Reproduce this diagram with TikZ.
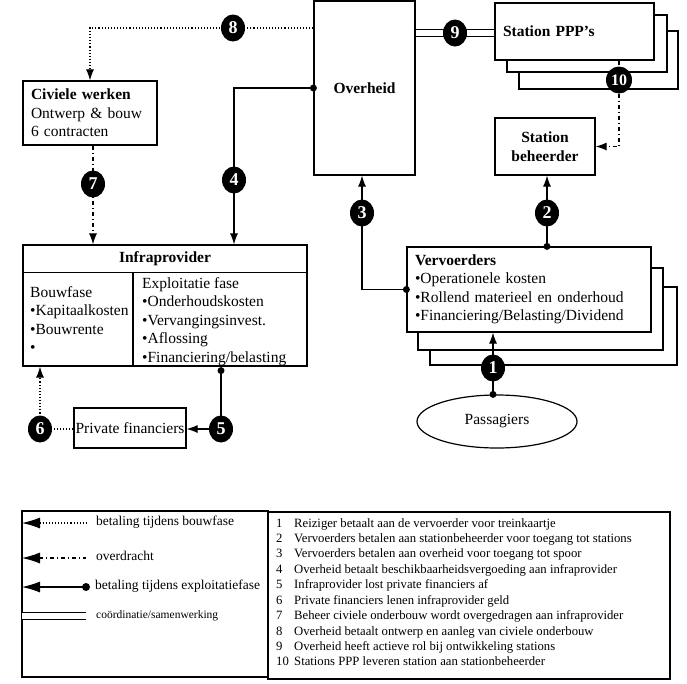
\documentclass[tikz,border=0pt]{standalone}
\usepackage{fontspec}
\setmainfont{Liberation Serif}
\usetikzlibrary{shapes.geometric,arrows.meta}
\pgfdeclarelayer{fg}
\pgfsetlayers{main,fg}
\begin{document}
\begin{tikzpicture}[x=1pt,y=-1pt,
  box/.style={draw, line width=1.2pt, fill=white, inner sep=0pt},
  txt/.style={font=\fontsize{15.5}{18.5}\selectfont},
  btxt/.style={font=\bfseries\fontsize{15.5}{18.5}\selectfont},
  num/.style={ellipse, fill=black, inner sep=0pt, minimum width=24pt, minimum height=27pt, text=white, font=\bfseries\fontsize{18}{18}\selectfont},
  conn/.style={line width=1.1pt},
  dotline/.style={conn, dotted},
  dashdot/.style={conn, dash pattern=on 4pt off 3pt on 1pt off 3pt},
  arr/.style={-{Latex[length=11pt,width=8pt]}},
  bigarr/.style={{Latex[length=18pt,width=11pt]}-},
  dbl/.style={double, double distance=6pt, line width=1.2pt},
  legtxt/.style={font=\fontsize{13.5}{15}\selectfont, anchor=west, inner sep=0pt},
]
\useasboundingbox (0,0) rectangle (687,683);

% shadow boxes
\node[box, minimum width=159pt, minimum height=58pt] (ppp3) at (598.5,60) {};
\node[box, minimum width=160pt, minimum height=57pt] (ppp2) at (587,43.5) {};
\node[box, minimum width=247pt, minimum height=78pt] (verv3) at (553.5,326) {};
\node[box, minimum width=245pt, minimum height=82pt] (verv2) at (540.5,309) {};

% main boxes
\node[box, btxt, minimum width=101pt, minimum height=174pt] (ov) at (364.5,88) {Overheid};
\node[box, btxt, minimum width=159pt, minimum height=57pt, text width=143pt, inner xsep=8pt, align=left] (ppp) at (574.5,31.5) {Station PPP's};
\node[box, btxt, minimum width=100pt, minimum height=57pt, align=center] (sb) at (545,146.5) {Station\\beheerder};
\node[box, txt, minimum width=134pt, minimum height=64pt, text width=118pt, inner xsep=8pt, align=left] (civ) at (90,113) {\textbf{Civiele werken}\\Ontwerp \& bouw\\6 contracten};
\node[box, minimum width=284pt, minimum height=121pt] (infra) at (165,305.5) {};
\node[btxt, inner sep=0pt] (infrah) at (165,259) {Infraprovider};
\draw[line width=1.2pt] (infra.north west) ++(0,28) coordinate (hl) -- (hl -| infra.east);
\draw[line width=1.2pt] (133,273) -- (133,366);
\node[txt, anchor=north west, align=left, inner sep=0pt] (infL) at (30,286) {Bouwfase\\•Kapitaalkosten\\•Bouwrente\\•};
\node[txt, anchor=north west, align=left, inner sep=0pt] (infR) at (142,277) {Exploitatie fase\\•Onderhoudskosten\\•Vervangingsinvest.\\•Aflossing\\•Financiering/belasting};
\node[box, txt, minimum width=244pt, minimum height=85pt, text width=228pt, inner xsep=8pt, align=left] (verv) at (529,289.5) {\textbf{Vervoerders}\\•Operationele kosten\\•Rollend materieel en onderhoud\\•Financiering/Belasting/Dividend};
\node[ellipse, draw, line width=1.2pt, fill=white, txt, minimum width=160pt, minimum height=53pt, inner sep=0pt] (pass) at (497,421.5) {Passagiers};
\node[box, txt, minimum width=112pt, minimum height=40pt] (pf) at (130,428) {Private financiers};

% number circles
\begin{pgfonlayer}{fg}
\node[num] (n1) at (493,368) {1};
\node[num] (n2) at (547,213) {2};
\node[num] (n3) at (362,213) {3};
\node[num] (n4) at (234,180) {4};
\node[num] (n5) at (221,429) {5};
\node[num] (n6) at (40,429) {6};
\node[num] (n7) at (93,184) {7};
\node[num] (n8) at (233,28) {8};
\node[num] (n9) at (455,33) {9};
\node[num, minimum width=26pt, font=\bfseries\fontsize{16}{16}\selectfont] (n10) at (619,80) {10};
\end{pgfonlayer}

% connectors
\draw[dotline, arr] (ov.west |- n8.center) -- (n8.center) -| (civ.north);
\draw[dashdot, arr] (civ.south -| n7) -- (infra.north -| n7);
\draw[conn, arr] (ov.west) -| (n4.center) -- (infra.north -| n4);
\fill (ov.west) circle (3.5pt);
\draw[conn, arr] (n3.center) -- (ov.south -| n3);
\draw[conn] (n3.center) |- (verv.west);
\fill (verv.west) circle (3.5pt);
\draw[conn, arr] (n2.center) -- (sb.south -| n2);
\draw[conn] (n2.center) -- (verv.north -| n2);
\fill (verv.north -| n2) circle (3.5pt);
\draw[conn, arr] (n1.center) -- (verv.south -| n1);
\draw[conn] (n1.center) -- (pass.north -| n1);
\fill (pass.north -| n1) circle (3.5pt);
\draw[conn] ([yshift=-4pt]infra.south -| n5) -- (n5.center);
\fill ([yshift=-4pt]infra.south -| n5) circle (3.5pt);
\draw[conn, arr] (n5.center) -- (pf.east |- n5.center);
\draw[dotline] (pf.west |- n6.center) -- (n6.center);
\draw[dotline, arr] (n6.center) -- (infra.south -| n6);
\draw[dbl] (ov.east |- n9.center) -- (ppp.west |- n9.center);
\draw[dashdot, arr] (ppp.south -| n10) -- (n10.center) |- (sb.east);

% legend
\node[draw, line width=1.2pt, minimum width=246pt, minimum height=166pt, inner sep=0pt] (legA) at (145,594) {};
\node[draw, line width=1.2pt, minimum width=402pt, minimum height=167pt, inner sep=0pt] (legB) at (469,595.5) {};
\coordinate (la1) at (22,523); \coordinate (lb1) at (86,523);
\coordinate (la2) at (22,558); \coordinate (lb2) at (86,558);
\coordinate (la3) at (22,587); \coordinate (lb3) at (86,587);
\coordinate (la4) at (22,616); \coordinate (lb4) at (86,616);
\draw[dotline, bigarr] (la1) -- (lb1);
\draw[dashdot, bigarr] (la2) -- (lb2);
\draw[conn, {Latex[length=18pt,width=11pt]}-] (la3) -- (lb3);
\fill (lb3) circle (4pt);
\draw[dbl] (la4) -- (lb4);
\node[legtxt] (lt1) at (96,522) {betaling tijdens bouwfase};
\node[legtxt] (lt2) at (96,556) {overdracht};
\node[legtxt] (lt3) at (95,586) {betaling tijdens exploitatiefase};
\node[legtxt, font=\fontsize{11.5}{13}\selectfont] (lt4) at (96,616) {coördinatie/samenwerking};
\node[anchor=north west, align=left, inner sep=0pt, font=\fontsize{12.7}{15.44}\selectfont] (legtext) at (276,518) {%
\makebox[18pt][l]{1}Reiziger betaalt aan de vervoerder voor treinkaartje\\
\makebox[18pt][l]{2}Vervoerders betalen aan stationbeheerder voor toegang tot stations\\
\makebox[18pt][l]{3}Vervoerders betalen aan overheid voor toegang tot spoor\\
\makebox[18pt][l]{4}Overheid betaalt beschikbaarheidsvergoeding aan infraprovider\\
\makebox[18pt][l]{5}Infraprovider lost private financiers af\\
\makebox[18pt][l]{6}Private financiers lenen infraprovider geld\\
\makebox[18pt][l]{7}Beheer civiele onderbouw wordt overgedragen aan infraprovider\\
\makebox[18pt][l]{8}Overheid betaalt ontwerp en aanleg van civiele onderbouw\\
\makebox[18pt][l]{9}Overheid heeft actieve rol bij ontwikkeling stations\\
\makebox[18pt][l]{10}Stations PPP leveren station aan stationbeheerder};
\end{tikzpicture}
\end{document}
